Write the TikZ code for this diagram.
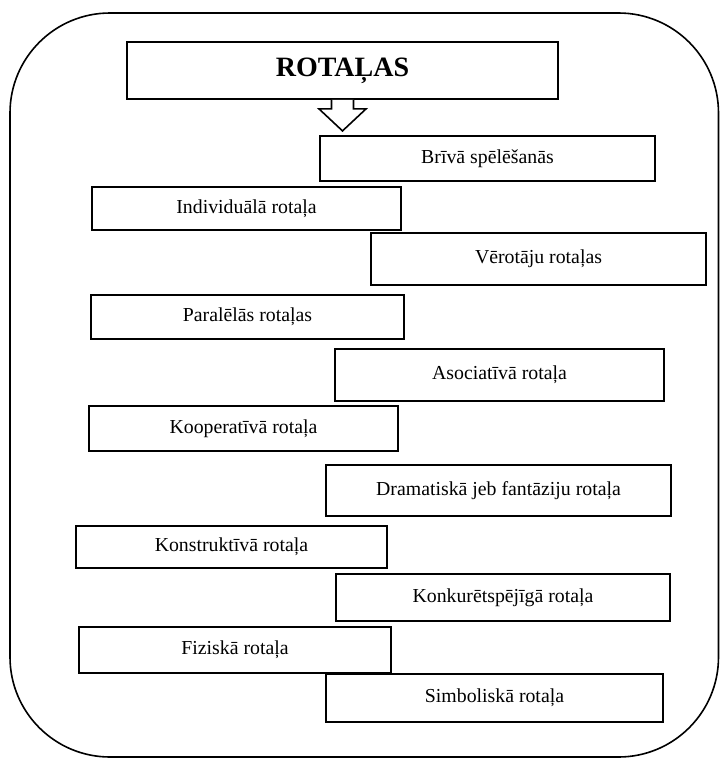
\documentclass[tikz,border=0pt]{standalone}
\usepackage{fontspec}
\setmainfont{Liberation Serif}
\begin{document}
\begin{tikzpicture}[x=1pt,y=-1pt,
  box/.style={draw=black,line width=1.6pt,fill=white,rectangle,inner sep=0pt,
    font=\fontsize{19.8}{21}\selectfont},
  titlebox/.style={draw=black,line width=1.8pt,fill=white,rectangle,inner sep=0pt,
    font=\fontsize{28}{30}\selectfont\bfseries},
  frame/.style={draw=black,line width=1.6pt,rounded corners=100pt},
  blockarrow/.style={draw=black,line width=1.6pt,fill=white,line join=miter}
]
\useasboundingbox (0,0) rectangle (721,764);
\draw[frame] (10,13) rectangle (718.5,757);

\node[titlebox,minimum width=431pt,minimum height=57pt] (title) at (342.5,70.5) {ROTAĻAS};
\draw[blockarrow] (title.south) ++(-11,0) -- ++(0,9) -- ++(-12.5,0) -- ++(23.5,22) -- ++(23.5,-22) -- ++(-12.5,0) -- ++(0,-9);

\node[box,minimum width=335pt,minimum height=45pt] (b1) at (487.5,158.5) {Brīvā spēlēšanās};
\node[box,minimum width=309pt,minimum height=43pt] (b2) at (246.5,208.5) {Individuālā rotaļa};
\node[box,minimum width=335pt,minimum height=52pt] (b3) at (538.5,259) {Vērotāju rotaļas};
\node[box,minimum width=313pt,minimum height=44pt] (b4) at (247.5,317) {Paralēlās rotaļas};
\node[box,minimum width=329pt,minimum height=52pt] (b5) at (499.5,375) {Asociatīvā rotaļa};
\node[box,minimum width=309pt,minimum height=45pt] (b6) at (243.5,428.5) {Kooperatīvā rotaļa};
\node[box,minimum width=345pt,minimum height=51pt] (b7) at (498.5,490.5) {Dramatiskā jeb fantāziju rotaļa};
\node[box,minimum width=311pt,minimum height=42pt] (b8) at (231.5,547) {Konstruktīvā rotaļa};
\node[box,minimum width=334pt,minimum height=47pt] (b9) at (503,597.5) {Konkurētspējīgā rotaļa};
\node[box,minimum width=312pt,minimum height=46pt] (b10) at (235,650) {Fiziskā rotaļa};
\node[box,minimum width=337pt,minimum height=48pt] (b11) at (494.5,698) {Simboliskā rotaļa};
\end{tikzpicture}
\end{document}
